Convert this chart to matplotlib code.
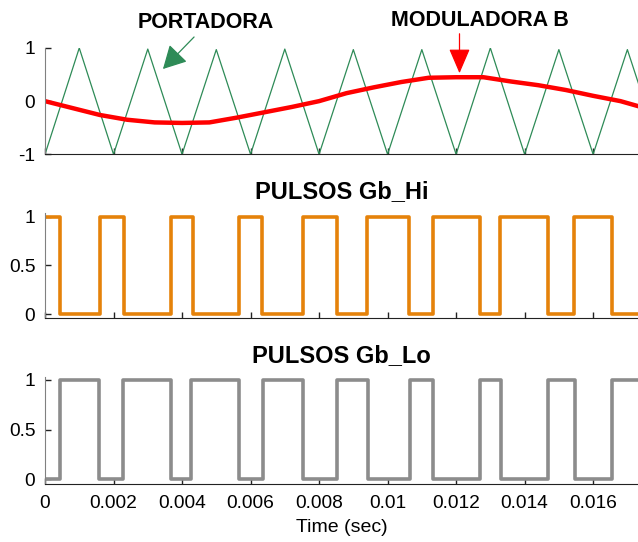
import matplotlib
matplotlib.use("Agg")
import matplotlib.pyplot as plt
from matplotlib.patches import FancyArrowPatch

plt.rcParams['font.family'] = ['Liberation Sans', 'DejaVu Sans']

# ---- data ----
carrier_t = [0.000, 0.001, 0.002, 0.003, 0.004, 0.005, 0.006, 0.007, 0.008, 0.009,
             0.010, 0.011, 0.012, 0.013, 0.014, 0.015, 0.016, 0.017, 0.018]
carrier_v = [-1, 1, -1, 0.98, -1, 0.97, -1, 0.98, -1, 0.97,
             -1, 0.97, -1, 1, -1, 0.97, -1, 0.97, -1]

mod_t = [0.0, 0.0008, 0.0016, 0.0024, 0.0032, 0.0040, 0.0048, 0.0056, 0.0064,
         0.0072, 0.0080, 0.0088, 0.0096, 0.0104, 0.0112, 0.0120, 0.0128, 0.0136,
         0.0144, 0.0152, 0.0160, 0.0168, 0.0174]
mod_v = [0.00, -0.13, -0.26, -0.35, -0.40, -0.41, -0.40, -0.31, -0.21,
         -0.11, 0.00, 0.15, 0.26, 0.36, 0.44, 0.45, 0.45, 0.37,
         0.30, 0.21, 0.10, 0.00, -0.11]

hi_t = [0, 0.00044, 0.0016, 0.00231, 0.00367, 0.00431, 0.00566, 0.00633, 0.00754,
        0.00851, 0.00941, 0.01062, 0.01133, 0.01271, 0.01329, 0.01469, 0.01545,
        0.01654, 0.0175]
hi_v = [1, 0, 1, 0, 1, 0, 1, 0, 1, 0, 1, 0, 1, 0, 1, 0, 1, 0, 0]

lo_t = [0, 0.00044, 0.00157, 0.00229, 0.00367, 0.00427, 0.00567, 0.00636, 0.00754,
        0.00851, 0.00943, 0.01065, 0.01133, 0.0127, 0.01332, 0.01469, 0.01547,
        0.01654, 0.0175]
lo_v = [0, 1, 0, 1, 0, 1, 0, 1, 0, 1, 0, 1, 0, 1, 0, 1, 0, 1, 1]

xticks = [0, 0.002, 0.004, 0.006, 0.008, 0.010, 0.012, 0.014, 0.016]
xticklabels = ['0', '0.002', '0.004', '0.006', '0.008', '0.01', '0.012', '0.014', '0.016']

W, H = 638, 542
fig = plt.figure(figsize=(W / 100, H / 100), dpi=100)

def px_axes(top, bottom, left=45, right=638):
    return fig.add_axes([left / W, 1 - bottom / H, (right - left) / W, (bottom - top) / H])

XMAX = 0.01731
FS = 13.8
TFS = 17

def style(ax, ylim, yticks, yticklabels, show_x=False):
    ax.set_xlim(0, XMAX)
    ax.set_ylim(*ylim)
    ax.spines['top'].set_visible(False)
    ax.spines['right'].set_visible(False)
    ax.spines['left'].set_color('#808080')
    ax.spines['bottom'].set_color('#222222')
    ax.set_yticks(yticks)
    ax.set_yticklabels(yticklabels)
    ax.set_xticks(xticks)
    if show_x:
        ax.set_xticklabels(xticklabels)
    else:
        ax.set_xticklabels([])
    ax.tick_params(direction='in', length=4, width=1, labelsize=FS, color='#222222')
    ax.tick_params(axis='y', pad=7)
    ax.tick_params(axis='x', pad=8)
    ax.patch.set_alpha(0)

# top axes
ax1 = px_axes(48, 154.3)
ax1.plot(carrier_t, carrier_v, color='#2e8b57', lw=0.9)
ax1.plot(mod_t, mod_v, color='#ff0000', lw=3.2, solid_capstyle='butt')
style(ax1, (-1, 1), [-1, 0, 1], ['-1', '0', '1'])

# middle axes
ax2 = px_axes(213.3, 317.7)
ax2.plot(hi_t, hi_v, drawstyle='steps-post', color='#e5820a', lw=2.6)
style(ax2, (-0.038, 1.035), [0, 0.5, 1], ['0', '0.5', '1'])
ax2.set_title('PULSOS Gb_Hi', fontsize=TFS, fontweight='bold', pad=11)

# bottom axes
ax3 = px_axes(377.3, 484)
ax3.plot(lo_t, lo_v, drawstyle='steps-post', color='#8c8c8c', lw=2.6)
style(ax3, (-0.047, 1.027), [0, 0.5, 1], ['0', '0.5', '1'], show_x=True)
ax3.set_title('PULSOS Gb_Lo', fontsize=TFS, fontweight='bold', pad=11)
ax3.set_xlabel('Time (sec)', fontsize=14, labelpad=5)

# annotations
def fp(x, y):
    return (x / W, 1 - y / H)

fig.text(*fp(206, 23), 'PORTADORA', fontsize=15.5, fontweight='bold', ha='center', va='center')
fig.text(*fp(480, 21), 'MODULADORA B', fontsize=15.5, fontweight='bold', ha='center', va='center')

fig.add_artist(FancyArrowPatch(
    fp(196, 35), fp(161, 71), transform=fig.transFigure,
    arrowstyle='-|>,head_length=6.5,head_width=3.5', color='#2e8b57', lw=0.9,
    mutation_scale=2.2))
fig.add_artist(FancyArrowPatch(
    fp(459.5, 31), fp(459.5, 76), transform=fig.transFigure,
    arrowstyle='-|>,head_length=7,head_width=3', color='#ff0000', lw=0.9,
    mutation_scale=2.2))

fig.savefig('out.png', dpi=100)
